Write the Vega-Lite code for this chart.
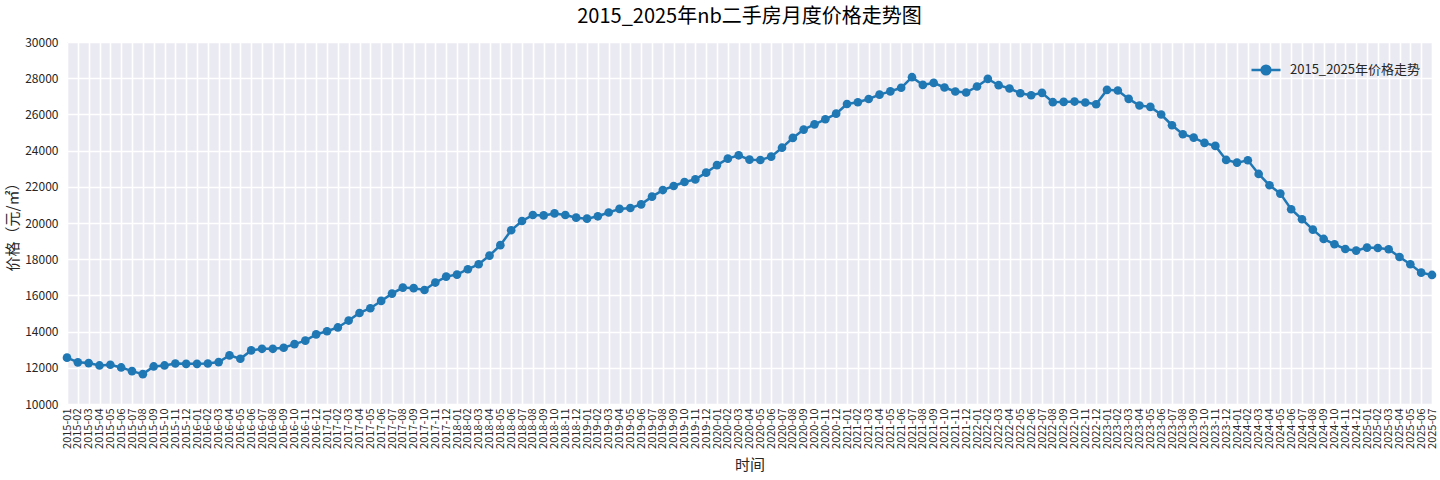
{
  "$schema": "https://vega.github.io/schema/vega-lite/v6.json",
  "width": 1365,
  "height": 362,
  "autosize": {"type": "none"},
  "padding": {"left": 67, "top": 42, "right": 8, "bottom": 76},
  "background": "white",
  "title": {"text": "2015_2025年nb二手房月度价格走势图", "fontSize": 20, "font": "Noto Sans CJK SC", "fontWeight": "normal", "color": "#000000", "offset": 9},
  "config": {
    "view": {"fill": "#EAEAF2", "stroke": null},
    "font": "Noto Sans CJK SC",
    "axis": {"domain": false, "ticks": false, "grid": true, "gridColor": "#FFFFFF", "gridWidth": 1.6, "gridOpacity": 1, "labelColor": "#262626", "titleColor": "#262626", "labelFont": "Noto Sans CJK SC", "titleFont": "Noto Sans CJK SC", "titleFontWeight": "normal"}
  },
  "data": {"values": [
    {"month": "2015-01", "price": 12560}, {"month": "2015-02", "price": 12300}, {"month": "2015-03", "price": 12260}, {"month": "2015-04", "price": 12130},
    {"month": "2015-05", "price": 12170}, {"month": "2015-06", "price": 12020}, {"month": "2015-07", "price": 11815}, {"month": "2015-08", "price": 11650},
    {"month": "2015-09", "price": 12075}, {"month": "2015-10", "price": 12130}, {"month": "2015-11", "price": 12240}, {"month": "2015-12", "price": 12220},
    {"month": "2016-01", "price": 12220}, {"month": "2016-02", "price": 12240}, {"month": "2016-03", "price": 12315}, {"month": "2016-04", "price": 12685},
    {"month": "2016-05", "price": 12500}, {"month": "2016-06", "price": 12960}, {"month": "2016-07", "price": 13050}, {"month": "2016-08", "price": 13050},
    {"month": "2016-09", "price": 13110}, {"month": "2016-10", "price": 13310}, {"month": "2016-11", "price": 13500}, {"month": "2016-12", "price": 13850},
    {"month": "2017-01", "price": 14020}, {"month": "2017-02", "price": 14230}, {"month": "2017-03", "price": 14610}, {"month": "2017-04", "price": 15030},
    {"month": "2017-05", "price": 15290}, {"month": "2017-06", "price": 15695}, {"month": "2017-07", "price": 16100}, {"month": "2017-08", "price": 16430},
    {"month": "2017-09", "price": 16400}, {"month": "2017-10", "price": 16300}, {"month": "2017-11", "price": 16710}, {"month": "2017-12", "price": 17040},
    {"month": "2018-01", "price": 17150}, {"month": "2018-02", "price": 17445}, {"month": "2018-03", "price": 17720}, {"month": "2018-04", "price": 18200},
    {"month": "2018-05", "price": 18775}, {"month": "2018-06", "price": 19600}, {"month": "2018-07", "price": 20110}, {"month": "2018-08", "price": 20440},
    {"month": "2018-09", "price": 20420}, {"month": "2018-10", "price": 20530}, {"month": "2018-11", "price": 20440}, {"month": "2018-12", "price": 20295},
    {"month": "2019-01", "price": 20240}, {"month": "2019-02", "price": 20370}, {"month": "2019-03", "price": 20580}, {"month": "2019-04", "price": 20780},
    {"month": "2019-05", "price": 20830}, {"month": "2019-06", "price": 21030}, {"month": "2019-07", "price": 21455}, {"month": "2019-08", "price": 21820},
    {"month": "2019-09", "price": 22045}, {"month": "2019-10", "price": 22265}, {"month": "2019-11", "price": 22410}, {"month": "2019-12", "price": 22780},
    {"month": "2020-01", "price": 23200}, {"month": "2020-02", "price": 23555}, {"month": "2020-03", "price": 23740}, {"month": "2020-04", "price": 23500},
    {"month": "2020-05", "price": 23480}, {"month": "2020-06", "price": 23665}, {"month": "2020-07", "price": 24160}, {"month": "2020-08", "price": 24700},
    {"month": "2020-09", "price": 25160}, {"month": "2020-10", "price": 25450}, {"month": "2020-11", "price": 25730}, {"month": "2020-12", "price": 26040},
    {"month": "2021-01", "price": 26575}, {"month": "2021-02", "price": 26670}, {"month": "2021-03", "price": 26850}, {"month": "2021-04", "price": 27090},
    {"month": "2021-05", "price": 27270}, {"month": "2021-06", "price": 27470}, {"month": "2021-07", "price": 28055}, {"month": "2021-08", "price": 27630},
    {"month": "2021-09", "price": 27740}, {"month": "2021-10", "price": 27485}, {"month": "2021-11", "price": 27263}, {"month": "2021-12", "price": 27208},
    {"month": "2022-01", "price": 27540}, {"month": "2022-02", "price": 27963}, {"month": "2022-03", "price": 27613}, {"month": "2022-04", "price": 27430},
    {"month": "2022-05", "price": 27170}, {"month": "2022-06", "price": 27060}, {"month": "2022-07", "price": 27190}, {"month": "2022-08", "price": 26674},
    {"month": "2022-09", "price": 26692}, {"month": "2022-10", "price": 26710}, {"month": "2022-11", "price": 26655}, {"month": "2022-12", "price": 26563},
    {"month": "2023-01", "price": 27355}, {"month": "2023-02", "price": 27318}, {"month": "2023-03", "price": 26858}, {"month": "2023-04", "price": 26490},
    {"month": "2023-05", "price": 26416}, {"month": "2023-06", "price": 25992}, {"month": "2023-07", "price": 25400}, {"month": "2023-08", "price": 24905},
    {"month": "2023-09", "price": 24718}, {"month": "2023-10", "price": 24424}, {"month": "2023-11", "price": 24258}, {"month": "2023-12", "price": 23484},
    {"month": "2024-01", "price": 23337}, {"month": "2024-02", "price": 23466}, {"month": "2024-03", "price": 22710}, {"month": "2024-04", "price": 22084},
    {"month": "2024-05", "price": 21624}, {"month": "2024-06", "price": 20758}, {"month": "2024-07", "price": 20206}, {"month": "2024-08", "price": 19635},
    {"month": "2024-09", "price": 19119}, {"month": "2024-10", "price": 18824}, {"month": "2024-11", "price": 18566}, {"month": "2024-12", "price": 18474},
    {"month": "2025-01", "price": 18640}, {"month": "2025-02", "price": 18621}, {"month": "2025-03", "price": 18548}, {"month": "2025-04", "price": 18124},
    {"month": "2025-05", "price": 17719}, {"month": "2025-06", "price": 17258}, {"month": "2025-07", "price": 17130}
  ]},
  "mark": {"type": "line", "strokeWidth": 2.5, "point": {"filled": true, "size": 75, "opacity": 1}},
  "encoding": {
    "x": {
      "field": "month", "type": "ordinal", "sort": null,
      "scale": {"type": "point", "padding": 0},
      "axis": {"labelAngle": -90, "labelOverlap": false, "labelFontSize": 11, "labelPadding": 4, "title": "时间", "titleFontSize": 15, "titlePadding": 9}
    },
    "y": {
      "field": "price", "type": "quantitative",
      "scale": {"domain": [10000, 30000], "nice": false, "zero": false},
      "axis": {"values": [10000, 12000, 14000, 16000, 18000, 20000, 22000, 24000, 26000, 28000, 30000], "format": "d", "labelFontSize": 12, "labelPadding": 9, "title": "价格（元/㎡）", "titleFontSize": 15, "titlePadding": 4}
    },
    "color": {
      "datum": "2015_2025年价格走势",
      "scale": {"range": ["#1f77b4"]},
      "legend": {
        "title": null, "orient": "top-right", "offset": 12, "padding": 0,
        "labelFontSize": 13, "labelColor": "#262626", "labelOffset": 8,
        "symbolType": "M-1,0L1,0M-0.3,0A0.3,0.3,0,1,1,0.3,0A0.3,0.3,0,1,1,-0.3,0Z",
        "symbolSize": 841, "symbolStrokeWidth": 2.5,
        "symbolFillColor": "#1f77b4", "symbolStrokeColor": "#1f77b4",
        "encode": {"symbols": {"update": {"fill": {"value": "#1f77b4"}, "stroke": {"value": "#1f77b4"}, "strokeWidth": {"value": 2.5}, "opacity": {"value": 1}}}}
      }
    }
  }
}
